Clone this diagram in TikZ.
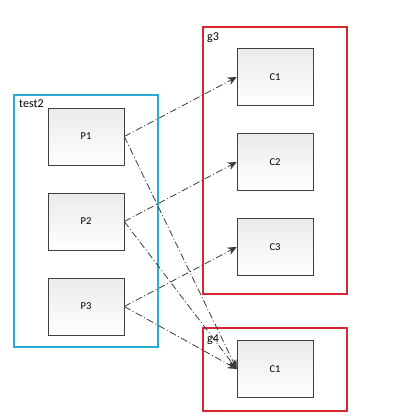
\documentclass[tikz,border=0pt]{standalone}
\usepackage{fontspec}
\setmainfont{Carlito}
\usetikzlibrary{arrows.meta}
\definecolor{frameblue}{RGB}{40,172,212}
\definecolor{framered}{RGB}{214,38,48}
\definecolor{linkgray}{RGB}{60,60,60}
\tikzset{
  unitbox/.style={draw=black!75,line width=0.6pt,top color=black!8,bottom color=white,
    minimum width=76pt,minimum height=57pt,inner sep=0pt,font=\fontsize{10.5}{12}\selectfont},
  bluegroup/.style={draw=frameblue,line width=1.8pt},
  redgroup/.style={draw=framered,line width=1.8pt},
  grouplabel/.style={anchor=north west,inner sep=0pt,font=\fontsize{12}{14}\selectfont},
  link/.style={draw=linkgray,line width=0.8pt,dash pattern=on 7pt off 2.5pt on 1pt off 2.5pt,
    -{Stealth[length=9pt,width=8pt]}}
}
\begin{document}
\begin{tikzpicture}[x=1pt,y=-1pt]
\useasboundingbox[fill=white] (0,0) rectangle (412,418);
\draw[bluegroup] (14,95) rectangle (158,347);
\draw[redgroup] (203,27) rectangle (347,294);
\draw[redgroup] (203,328) rectangle (347,411);
\node[grouplabel] (ltest2) at (19,100) {test2};
\node[grouplabel] (lg3) at (207,33) {g3};
\node[grouplabel] (lg4) at (207,335) {g4};
\node[unitbox] (p1) at (86,136.5) {P1};
\node[unitbox] (p2) at (86,221.5) {P2};
\node[unitbox] (p3) at (86,306.5) {P3};
\node[unitbox] (c1) at (275,77) {C1};
\node[unitbox] (c2) at (275,162) {C2};
\node[unitbox] (c3) at (275,247) {C3};
\node[unitbox] (c4) at (275,369) {C1};
\draw[link] (p1.east) -- (c1.west);
\draw[link] (p2.east) -- (c2.west);
\draw[link] (p3.east) -- (c3.west);
\draw[link] (p1.east) -- (c4.west);
\draw[link] (p2.east) -- (c4.west);
\draw[link] (p3.east) -- (c4.west);
\end{tikzpicture}
\end{document}
